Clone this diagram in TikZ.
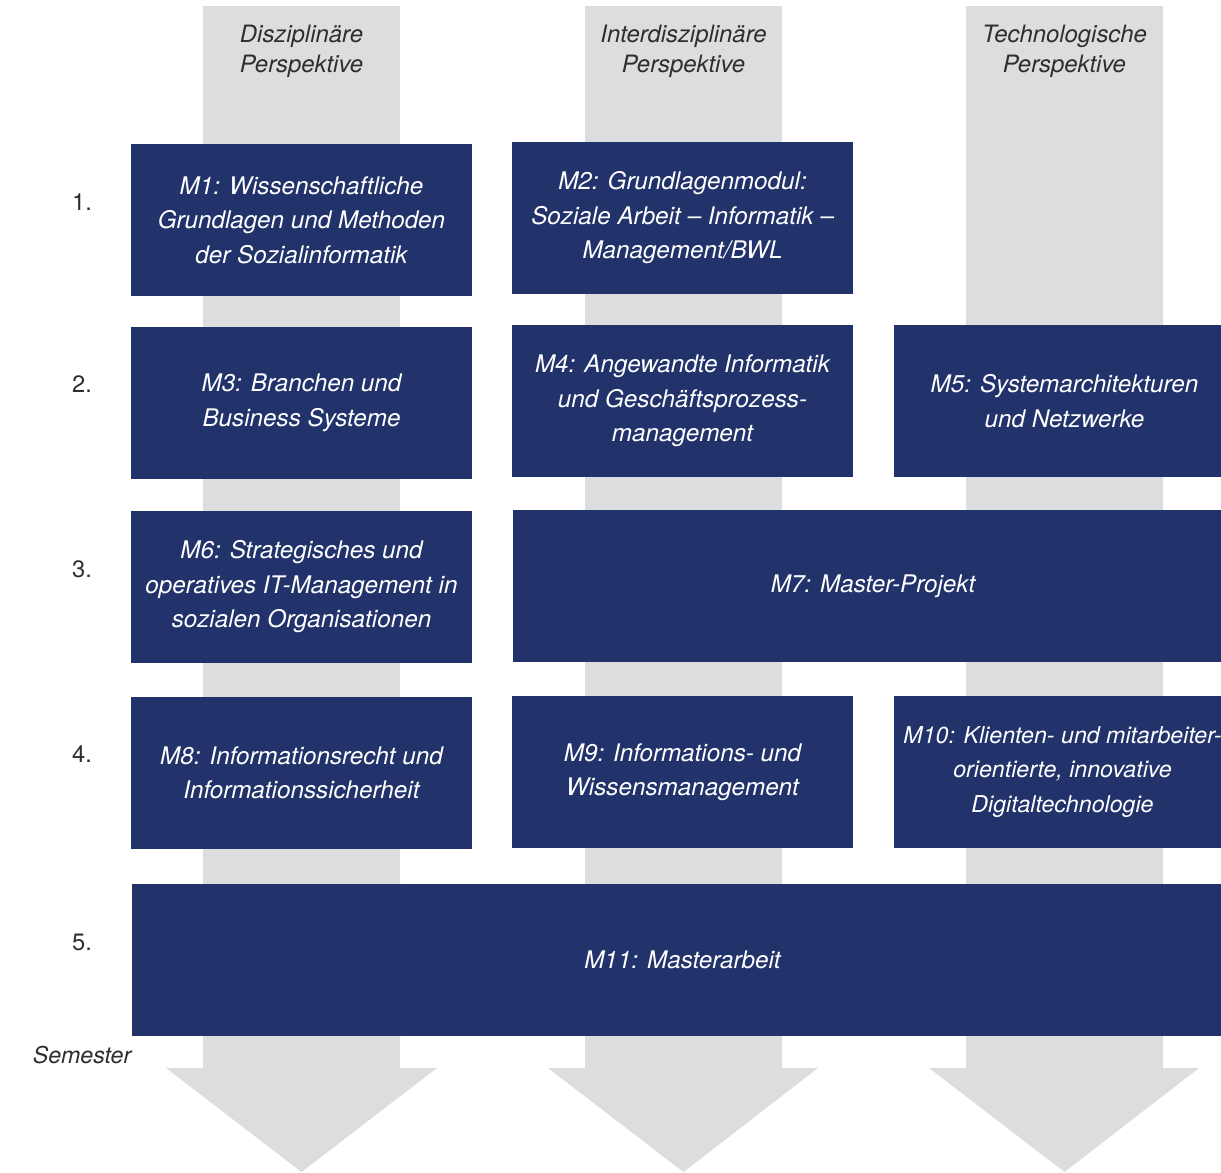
\documentclass[tikz,border=0pt]{standalone}
\usepackage{fontspec}
\setmainfont{TeX Gyre Heros}
\definecolor{modulblau}{HTML}{22326A}
\definecolor{pfeilgrau}{HTML}{DCDDDF}
\definecolor{textgrau}{HTML}{2E2E2E}
\begin{document}
\begin{tikzpicture}[x=0.02cm, y=-0.02cm]
		\tikzset{modul/.style={rectangle, fill=modulblau, text=white, minimum width=6.82cm, minimum height=3.04cm, inner sep=0, align=center, font=\fontsize{13.8}{19.6}\selectfont\itshape},
		kopf/.style={text=textgrau, align=center, font=\fontsize{13.6}{17}\selectfont\itshape},
		semester/.style={text=textgrau, font=\fontsize{13.5}{15}\selectfont}}
		\useasboundingbox (0,0) rectangle (1221,1173);
		% Pfeile
		\fill[pfeilgrau] (203,6) -- (400,6) -- (400,1068) -- (437,1068) -- (301.5,1172) -- (166,1068) -- (203,1068) -- cycle;
		\fill[pfeilgrau] (585,6) -- (782,6) -- (782,1068) -- (818,1068) -- (683.5,1172) -- (548,1068) -- (585,1068) -- cycle;
		\fill[pfeilgrau] (966,6) -- (1163,6) -- (1163,1068) -- (1199,1068) -- (1064.5,1172) -- (929,1068) -- (966,1068) -- cycle;

		\node[kopf] at (301.5, 51) (k1) {Disziplinäre\\Perspektive};
		\node[kopf] at (683.5, 51) (k2) {Interdisziplinäre\\Perspektive};
		\node[kopf] at (1064.5, 51) (k3) {Technologische\\Perspektive};

		\node[modul] at (301.5, 220) (m1) {M1: Wissenschaftliche\\Grundlagen und Methoden\\der Sozialinformatik};
		\node[modul] at (682.5, 218) (m2) {M2: Grundlagenmodul:\\Soziale Arbeit – Informatik –\\Management/BWL};
		\node[modul] at (301.5, 403) (m3) {M3: Branchen und\\Business Systeme};
		\node[modul] at (682.5, 401) (m4) {M4: Angewandte Informatik\\und Geschäftsprozess-\\management};
		\node[modul] at (1064.5, 401) (m5) {M5: Systemarchitekturen\\und Netzwerke};
		\node[modul] at (301.5, 587) (m6) {M6: Strategisches und\\operatives IT-Management in\\sozialen Organisationen};
		\node[modul, minimum width=14.4cm] at (873, 586) (m7) {M7: Master-Projekt};
		\node[modul] at (301.5, 773) (m8) {M8: Informationsrecht und\\Informationssicherheit};
		\node[modul] at (682.5, 772) (m9) {M9: Informations- und\\Wissensmanagement};
		\node[modul, minimum width=6.74cm, font=\fontsize{13.2}{19.6}\selectfont\itshape] at (1062.5, 772) (m10) {M10: Klienten- und mitarbeiter-\\orientierte, innovative\\Digitaltechnologie};
		\node[modul, minimum width=22.02cm] at (682.5, 960) (m11) {M11: Masterarbeit};

		\node[semester] at (82, 202) (s1) {1.};
		\node[semester] at (82, 384) (s2) {2.};
		\node[semester] at (82, 569) (s3) {3.};
		\node[semester] at (82, 754) (s4) {4.};
		\node[semester] at (82, 942) (s5) {5.};
		\node[kopf, font=\fontsize{13.2}{15}\selectfont\itshape] at (82, 1055) (sem) {Semester};
	\end{tikzpicture}
\end{document}
